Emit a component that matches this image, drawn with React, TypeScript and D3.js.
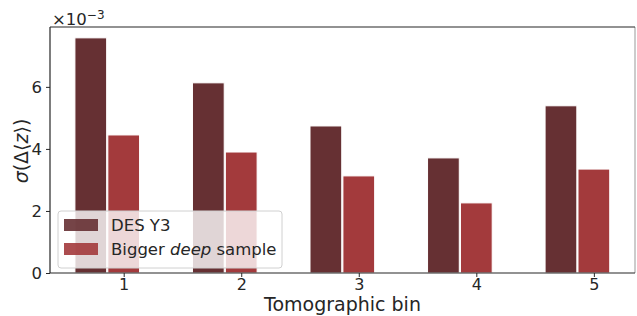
import { useEffect, useRef } from 'react';
import * as d3 from 'd3';

const bins = [1, 2, 3, 4, 5];
const desY3 = [7.58, 6.13, 4.74, 3.71, 5.39];
const bigger = [4.45, 3.9, 3.13, 2.26, 3.35];
const yTicks = [0, 2, 4, 6];

export default function App() {
  const width = 637;
  const height = 316;
  const marginLeft = 50;
  const marginRight = 2;
  const marginTop = 27;
  const marginBottom = 43;
  const barW = 0.27;
  const font = 'DejaVu Sans, sans-serif';

  const x = d3.scaleLinear().domain([0.373, 5.35]).range([marginLeft, width - marginRight]);
  const y = d3.scaleLinear().domain([0, 7.93]).range([height - marginBottom, marginTop]);

  const gx = useRef<SVGGElement>(null);
  const gy = useRef<SVGGElement>(null);

  useEffect(() => {
    const ax = d3.select(gx.current!)
      .call(d3.axisBottom(x).tickValues(bins).tickFormat(d3.format('d')).tickSize(4).tickPadding(2));
    ax.select('.domain').remove();
    ax.selectAll('text').attr('font-size', 16).attr('font-family', font).attr('fill', '#262626');
    ax.selectAll('line').attr('stroke', '#262626');
    const ay = d3.select(gy.current!)
      .call(d3.axisLeft(y).tickValues(yTicks).tickFormat(d3.format('d')).tickSize(4).tickPadding(4));
    ay.select('.domain').remove();
    ay.selectAll('text').attr('font-size', 16.5).attr('font-family', font).attr('fill', '#262626');
    ay.selectAll('line').attr('stroke', '#262626');
  }, []);

  const x0 = marginLeft;
  const x1 = width - marginRight;
  const y0 = marginTop;
  const y1 = height - marginBottom;

  return (
    <svg width={width} height={height} style={{ position: 'absolute', left: 0, top: 0 }}>
      <rect x={0} y={0} width={width} height={height} fill="white" />
      {bins.map((b, i) => (
        <g key={b}>
          <rect x={x(b - 0.28 - barW / 2)} y={y(desY3[i])} width={x(barW) - x(0)} height={y(0) - y(desY3[i])}
            fill="#663033" stroke="white" strokeWidth={1} />
          <rect x={x(b - barW / 2)} y={y(bigger[i])} width={x(barW) - x(0)} height={y(0) - y(bigger[i])}
            fill="#a33a3c" stroke="white" strokeWidth={1} />
        </g>
      ))}
      <line x1={x1} x2={x1} y1={y0} y2={y1} stroke="#999" strokeWidth={1} />
      <line x1={x0} x2={x1} y1={y0} y2={y0} stroke="#262626" strokeWidth={1.2} />
      <line x1={x0} x2={x1} y1={y1} y2={y1} stroke="#262626" strokeWidth={1.2} />
      <line x1={x0} x2={x0} y1={y0} y2={y1} stroke="#262626" strokeWidth={1.2} />
      <g ref={gx} transform={`translate(0,${y1})`} />
      <g ref={gy} transform={`translate(${x0},0)`} />
      <text x={52} y={25} fontSize={16.5} fontFamily={font} fill="#262626">
        ×10<tspan dy={-6} fontSize={12}>−3</tspan>
      </text>
      <text transform={`translate(27.5,151) rotate(-90)`} textAnchor="middle" fontSize={19}
        fontFamily={font} fill="#262626">
        <tspan fontStyle="italic">σ</tspan>(Δ⟨<tspan fontStyle="italic">z</tspan>⟩)
      </text>
      <text x={(x0 + x1) / 2} y={311} textAnchor="middle" fontSize={19} fontFamily={font} fill="#262626">
        Tomographic bin
      </text>
      <g fontFamily={font} fontSize={16.5} fill="#262626">
        <rect x={58} y={211} width={224} height={57} rx={3} fill="white" fillOpacity={0.8} stroke="#d0d0d0" />
        <rect x={64} y={219} width={34} height={12} fill="#663033" fillOpacity={0.9} />
        <rect x={64} y={243} width={34} height={12} fill="#a33a3c" fillOpacity={0.9} />
        <text x={111} y={231}>DES Y3</text>
        <text x={111} y={255}>Bigger <tspan fontStyle="italic">deep</tspan> sample</text>
      </g>
    </svg>
  );
}
